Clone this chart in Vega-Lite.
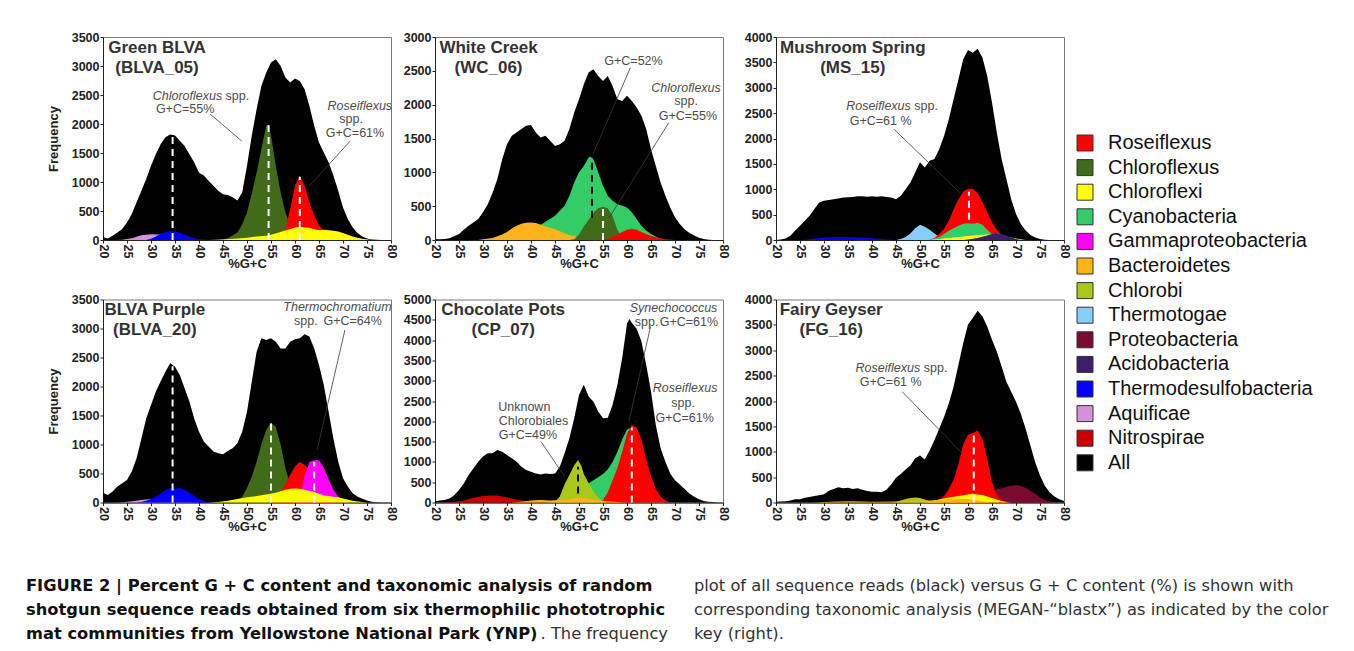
{
"$schema": "https://vega.github.io/schema/vega-lite/v6.json",
"padding": {"left": 26, "top": 30, "right": 0, "bottom": 0},
"background": "#ffffff",
"datasets": {
"curves": [
{"s":"B05","t":"All","gc":20,"f":50},{"s":"B05","t":"All","gc":21,"f":25},{"s":"B05","t":"All","gc":22,"f":75},{"s":"B05","t":"All","gc":23,"f":130},{"s":"B05","t":"All","gc":24,"f":190},{"s":"B05","t":"All","gc":25,"f":300},{"s":"B05","t":"All","gc":26,"f":450},{"s":"B05","t":"All","gc":27,"f":650},{"s":"B05","t":"All","gc":28,"f":850},{"s":"B05","t":"All","gc":29,"f":1050},{"s":"B05","t":"All","gc":30,"f":1280},{"s":"B05","t":"All","gc":31,"f":1480},{"s":"B05","t":"All","gc":32,"f":1650},{"s":"B05","t":"All","gc":33,"f":1770},{"s":"B05","t":"All","gc":34,"f":1820},{"s":"B05","t":"All","gc":35,"f":1800},{"s":"B05","t":"All","gc":36,"f":1710},{"s":"B05","t":"All","gc":37,"f":1620},{"s":"B05","t":"All","gc":38,"f":1480},{"s":"B05","t":"All","gc":39,"f":1340},{"s":"B05","t":"All","gc":40,"f":1160},{"s":"B05","t":"All","gc":41,"f":1110},{"s":"B05","t":"All","gc":42,"f":1020},{"s":"B05","t":"All","gc":43,"f":935},{"s":"B05","t":"All","gc":44,"f":850},{"s":"B05","t":"All","gc":45,"f":790},{"s":"B05","t":"All","gc":46,"f":775},{"s":"B05","t":"All","gc":47,"f":735},{"s":"B05","t":"All","gc":48,"f":680},{"s":"B05","t":"All","gc":49,"f":820},{"s":"B05","t":"All","gc":50,"f":1280},{"s":"B05","t":"All","gc":51,"f":1800},{"s":"B05","t":"All","gc":52,"f":2255},{"s":"B05","t":"All","gc":53,"f":2655},{"s":"B05","t":"All","gc":54,"f":2885},{"s":"B05","t":"All","gc":55,"f":3060},{"s":"B05","t":"All","gc":56,"f":3115},{"s":"B05","t":"All","gc":57,"f":3000},{"s":"B05","t":"All","gc":58,"f":2800},{"s":"B05","t":"All","gc":59,"f":2715},{"s":"B05","t":"All","gc":60,"f":2785},{"s":"B05","t":"All","gc":61,"f":2740},{"s":"B05","t":"All","gc":62,"f":2600},{"s":"B05","t":"All","gc":63,"f":2310},{"s":"B05","t":"All","gc":64,"f":1970},{"s":"B05","t":"All","gc":65,"f":1680},{"s":"B05","t":"All","gc":66,"f":1510},{"s":"B05","t":"All","gc":67,"f":1340},{"s":"B05","t":"All","gc":68,"f":1110},{"s":"B05","t":"All","gc":69,"f":850},{"s":"B05","t":"All","gc":70,"f":560},{"s":"B05","t":"All","gc":71,"f":360},{"s":"B05","t":"All","gc":72,"f":220},{"s":"B05","t":"All","gc":73,"f":120},{"s":"B05","t":"All","gc":74,"f":60},{"s":"B05","t":"All","gc":75,"f":25},{"s":"B05","t":"All","gc":76,"f":10},{"s":"B05","t":"All","gc":77,"f":5},{"s":"B05","t":"All","gc":78,"f":0},{"s":"B05","t":"All","gc":79,"f":0},{"s":"B05","t":"All","gc":80,"f":0},
{"s":"B05","t":"Chloroflexus","gc":44,"f":0},{"s":"B05","t":"Chloroflexus","gc":46,"f":30},{"s":"B05","t":"Chloroflexus","gc":48,"f":130},{"s":"B05","t":"Chloroflexus","gc":49,"f":270},{"s":"B05","t":"Chloroflexus","gc":50,"f":475},{"s":"B05","t":"Chloroflexus","gc":51,"f":800},{"s":"B05","t":"Chloroflexus","gc":52,"f":1165},{"s":"B05","t":"Chloroflexus","gc":53,"f":1570},{"s":"B05","t":"Chloroflexus","gc":54,"f":1970},{"s":"B05","t":"Chloroflexus","gc":54.5,"f":1990},{"s":"B05","t":"Chloroflexus","gc":55,"f":1800},{"s":"B05","t":"Chloroflexus","gc":56,"f":1280},{"s":"B05","t":"Chloroflexus","gc":57,"f":820},{"s":"B05","t":"Chloroflexus","gc":58,"f":475},{"s":"B05","t":"Chloroflexus","gc":59,"f":250},{"s":"B05","t":"Chloroflexus","gc":60,"f":100},{"s":"B05","t":"Chloroflexus","gc":61,"f":30},{"s":"B05","t":"Chloroflexus","gc":62,"f":0},
{"s":"B05","t":"Roseiflexus","gc":56,"f":0},{"s":"B05","t":"Roseiflexus","gc":57,"f":60},{"s":"B05","t":"Roseiflexus","gc":58,"f":190},{"s":"B05","t":"Roseiflexus","gc":59,"f":535},{"s":"B05","t":"Roseiflexus","gc":60,"f":935},{"s":"B05","t":"Roseiflexus","gc":61,"f":1110},{"s":"B05","t":"Roseiflexus","gc":62,"f":935},{"s":"B05","t":"Roseiflexus","gc":63,"f":650},{"s":"B05","t":"Roseiflexus","gc":64,"f":420},{"s":"B05","t":"Roseiflexus","gc":65,"f":250},{"s":"B05","t":"Roseiflexus","gc":66,"f":160},{"s":"B05","t":"Roseiflexus","gc":67,"f":100},{"s":"B05","t":"Roseiflexus","gc":68,"f":40},{"s":"B05","t":"Roseiflexus","gc":69,"f":0},
{"s":"B05","t":"Aquificae","gc":23,"f":0},{"s":"B05","t":"Aquificae","gc":24,"f":5},{"s":"B05","t":"Aquificae","gc":26,"f":30},{"s":"B05","t":"Aquificae","gc":28,"f":80},{"s":"B05","t":"Aquificae","gc":30,"f":100},{"s":"B05","t":"Aquificae","gc":32,"f":95},{"s":"B05","t":"Aquificae","gc":34,"f":60},{"s":"B05","t":"Aquificae","gc":36,"f":30},{"s":"B05","t":"Aquificae","gc":38,"f":10},{"s":"B05","t":"Aquificae","gc":40,"f":0},
{"s":"B05","t":"Thermodesulfobacteria","gc":29,"f":0},{"s":"B05","t":"Thermodesulfobacteria","gc":30,"f":20},{"s":"B05","t":"Thermodesulfobacteria","gc":31,"f":60},{"s":"B05","t":"Thermodesulfobacteria","gc":32,"f":110},{"s":"B05","t":"Thermodesulfobacteria","gc":33,"f":135},{"s":"B05","t":"Thermodesulfobacteria","gc":34,"f":155},{"s":"B05","t":"Thermodesulfobacteria","gc":35,"f":150},{"s":"B05","t":"Thermodesulfobacteria","gc":36,"f":120},{"s":"B05","t":"Thermodesulfobacteria","gc":37,"f":90},{"s":"B05","t":"Thermodesulfobacteria","gc":38,"f":60},{"s":"B05","t":"Thermodesulfobacteria","gc":39,"f":35},{"s":"B05","t":"Thermodesulfobacteria","gc":40,"f":15},{"s":"B05","t":"Thermodesulfobacteria","gc":42,"f":0},
{"s":"B05","t":"Chloroflexi","gc":42,"f":0},{"s":"B05","t":"Chloroflexi","gc":45,"f":10},{"s":"B05","t":"Chloroflexi","gc":48,"f":25},{"s":"B05","t":"Chloroflexi","gc":50,"f":40},{"s":"B05","t":"Chloroflexi","gc":52,"f":60},{"s":"B05","t":"Chloroflexi","gc":54,"f":75},{"s":"B05","t":"Chloroflexi","gc":55,"f":90},{"s":"B05","t":"Chloroflexi","gc":57,"f":140},{"s":"B05","t":"Chloroflexi","gc":59,"f":190},{"s":"B05","t":"Chloroflexi","gc":60,"f":215},{"s":"B05","t":"Chloroflexi","gc":61,"f":230},{"s":"B05","t":"Chloroflexi","gc":62,"f":215},{"s":"B05","t":"Chloroflexi","gc":63,"f":210},{"s":"B05","t":"Chloroflexi","gc":64,"f":185},{"s":"B05","t":"Chloroflexi","gc":65,"f":170},{"s":"B05","t":"Chloroflexi","gc":66,"f":175},{"s":"B05","t":"Chloroflexi","gc":67,"f":170},{"s":"B05","t":"Chloroflexi","gc":68,"f":160},{"s":"B05","t":"Chloroflexi","gc":69,"f":145},{"s":"B05","t":"Chloroflexi","gc":70,"f":120},{"s":"B05","t":"Chloroflexi","gc":71,"f":90},{"s":"B05","t":"Chloroflexi","gc":72,"f":60},{"s":"B05","t":"Chloroflexi","gc":73,"f":40},{"s":"B05","t":"Chloroflexi","gc":74,"f":20},{"s":"B05","t":"Chloroflexi","gc":76,"f":0},

{"s":"W06","t":"All","gc":20,"f":10},{"s":"W06","t":"All","gc":21,"f":10},{"s":"W06","t":"All","gc":22,"f":15},{"s":"W06","t":"All","gc":23,"f":25},{"s":"W06","t":"All","gc":24,"f":55},{"s":"W06","t":"All","gc":25,"f":90},{"s":"W06","t":"All","gc":26,"f":150},{"s":"W06","t":"All","gc":27,"f":210},{"s":"W06","t":"All","gc":28,"f":260},{"s":"W06","t":"All","gc":29,"f":310},{"s":"W06","t":"All","gc":30,"f":410},{"s":"W06","t":"All","gc":31,"f":530},{"s":"W06","t":"All","gc":32,"f":700},{"s":"W06","t":"All","gc":33,"f":900},{"s":"W06","t":"All","gc":34,"f":1195},{"s":"W06","t":"All","gc":35,"f":1415},{"s":"W06","t":"All","gc":36,"f":1540},{"s":"W06","t":"All","gc":37,"f":1590},{"s":"W06","t":"All","gc":38,"f":1640},{"s":"W06","t":"All","gc":39,"f":1690},{"s":"W06","t":"All","gc":40,"f":1700},{"s":"W06","t":"All","gc":41,"f":1590},{"s":"W06","t":"All","gc":42,"f":1515},{"s":"W06","t":"All","gc":43,"f":1540},{"s":"W06","t":"All","gc":44,"f":1465},{"s":"W06","t":"All","gc":45,"f":1390},{"s":"W06","t":"All","gc":46,"f":1415},{"s":"W06","t":"All","gc":47,"f":1465},{"s":"W06","t":"All","gc":48,"f":1640},{"s":"W06","t":"All","gc":49,"f":1885},{"s":"W06","t":"All","gc":50,"f":2080},{"s":"W06","t":"All","gc":51,"f":2300},{"s":"W06","t":"All","gc":52,"f":2475},{"s":"W06","t":"All","gc":53,"f":2525},{"s":"W06","t":"All","gc":54,"f":2425},{"s":"W06","t":"All","gc":55,"f":2350},{"s":"W06","t":"All","gc":56,"f":2425},{"s":"W06","t":"All","gc":57,"f":2275},{"s":"W06","t":"All","gc":58,"f":2080},{"s":"W06","t":"All","gc":59,"f":2055},{"s":"W06","t":"All","gc":60,"f":2130},{"s":"W06","t":"All","gc":61,"f":2055},{"s":"W06","t":"All","gc":62,"f":1960},{"s":"W06","t":"All","gc":63,"f":1835},{"s":"W06","t":"All","gc":64,"f":1640},{"s":"W06","t":"All","gc":65,"f":1340},{"s":"W06","t":"All","gc":66,"f":1095},{"s":"W06","t":"All","gc":67,"f":850},{"s":"W06","t":"All","gc":68,"f":655},{"s":"W06","t":"All","gc":69,"f":480},{"s":"W06","t":"All","gc":70,"f":335},{"s":"W06","t":"All","gc":71,"f":235},{"s":"W06","t":"All","gc":72,"f":160},{"s":"W06","t":"All","gc":73,"f":105},{"s":"W06","t":"All","gc":74,"f":65},{"s":"W06","t":"All","gc":75,"f":35},{"s":"W06","t":"All","gc":76,"f":15},{"s":"W06","t":"All","gc":77,"f":5},{"s":"W06","t":"All","gc":78,"f":0},{"s":"W06","t":"All","gc":79,"f":0},{"s":"W06","t":"All","gc":80,"f":0},
{"s":"W06","t":"Cyanobacteria","gc":36,"f":0},{"s":"W06","t":"Cyanobacteria","gc":38,"f":50},{"s":"W06","t":"Cyanobacteria","gc":40,"f":130},{"s":"W06","t":"Cyanobacteria","gc":42,"f":220},{"s":"W06","t":"Cyanobacteria","gc":43,"f":270},{"s":"W06","t":"Cyanobacteria","gc":45,"f":360},{"s":"W06","t":"Cyanobacteria","gc":47,"f":505},{"s":"W06","t":"Cyanobacteria","gc":48,"f":655},{"s":"W06","t":"Cyanobacteria","gc":49,"f":850},{"s":"W06","t":"Cyanobacteria","gc":50,"f":1000},{"s":"W06","t":"Cyanobacteria","gc":51,"f":1095},{"s":"W06","t":"Cyanobacteria","gc":52,"f":1220},{"s":"W06","t":"Cyanobacteria","gc":52.5,"f":1230},{"s":"W06","t":"Cyanobacteria","gc":53,"f":1195},{"s":"W06","t":"Cyanobacteria","gc":54,"f":1000},{"s":"W06","t":"Cyanobacteria","gc":55,"f":800},{"s":"W06","t":"Cyanobacteria","gc":56,"f":655},{"s":"W06","t":"Cyanobacteria","gc":57,"f":580},{"s":"W06","t":"Cyanobacteria","gc":58,"f":530},{"s":"W06","t":"Cyanobacteria","gc":59,"f":505},{"s":"W06","t":"Cyanobacteria","gc":60,"f":480},{"s":"W06","t":"Cyanobacteria","gc":61,"f":410},{"s":"W06","t":"Cyanobacteria","gc":62,"f":310},{"s":"W06","t":"Cyanobacteria","gc":63,"f":210},{"s":"W06","t":"Cyanobacteria","gc":64,"f":140},{"s":"W06","t":"Cyanobacteria","gc":65,"f":90},{"s":"W06","t":"Cyanobacteria","gc":66,"f":50},{"s":"W06","t":"Cyanobacteria","gc":67,"f":20},{"s":"W06","t":"Cyanobacteria","gc":68,"f":0},
{"s":"W06","t":"Bacteroidetes","gc":29,"f":0},{"s":"W06","t":"Bacteroidetes","gc":30,"f":10},{"s":"W06","t":"Bacteroidetes","gc":32,"f":30},{"s":"W06","t":"Bacteroidetes","gc":34,"f":80},{"s":"W06","t":"Bacteroidetes","gc":35,"f":120},{"s":"W06","t":"Bacteroidetes","gc":36,"f":170},{"s":"W06","t":"Bacteroidetes","gc":37,"f":210},{"s":"W06","t":"Bacteroidetes","gc":38,"f":240},{"s":"W06","t":"Bacteroidetes","gc":39,"f":255},{"s":"W06","t":"Bacteroidetes","gc":40,"f":260},{"s":"W06","t":"Bacteroidetes","gc":41,"f":250},{"s":"W06","t":"Bacteroidetes","gc":42,"f":230},{"s":"W06","t":"Bacteroidetes","gc":43,"f":200},{"s":"W06","t":"Bacteroidetes","gc":44,"f":180},{"s":"W06","t":"Bacteroidetes","gc":45,"f":160},{"s":"W06","t":"Bacteroidetes","gc":46,"f":130},{"s":"W06","t":"Bacteroidetes","gc":47,"f":100},{"s":"W06","t":"Bacteroidetes","gc":48,"f":75},{"s":"W06","t":"Bacteroidetes","gc":50,"f":40},{"s":"W06","t":"Bacteroidetes","gc":52,"f":15},{"s":"W06","t":"Bacteroidetes","gc":54,"f":0},
{"s":"W06","t":"Chloroflexus","gc":48,"f":0},{"s":"W06","t":"Chloroflexus","gc":49,"f":10},{"s":"W06","t":"Chloroflexus","gc":50,"f":80},{"s":"W06","t":"Chloroflexus","gc":51,"f":200},{"s":"W06","t":"Chloroflexus","gc":52,"f":300},{"s":"W06","t":"Chloroflexus","gc":53,"f":400},{"s":"W06","t":"Chloroflexus","gc":54,"f":470},{"s":"W06","t":"Chloroflexus","gc":55,"f":490},{"s":"W06","t":"Chloroflexus","gc":56,"f":470},{"s":"W06","t":"Chloroflexus","gc":57,"f":350},{"s":"W06","t":"Chloroflexus","gc":58,"f":150},{"s":"W06","t":"Chloroflexus","gc":59,"f":30},{"s":"W06","t":"Chloroflexus","gc":60,"f":0},
{"s":"W06","t":"Roseiflexus","gc":55,"f":0},{"s":"W06","t":"Roseiflexus","gc":56,"f":20},{"s":"W06","t":"Roseiflexus","gc":57,"f":50},{"s":"W06","t":"Roseiflexus","gc":58,"f":80},{"s":"W06","t":"Roseiflexus","gc":59,"f":120},{"s":"W06","t":"Roseiflexus","gc":60,"f":150},{"s":"W06","t":"Roseiflexus","gc":61,"f":165},{"s":"W06","t":"Roseiflexus","gc":62,"f":150},{"s":"W06","t":"Roseiflexus","gc":63,"f":120},{"s":"W06","t":"Roseiflexus","gc":64,"f":90},{"s":"W06","t":"Roseiflexus","gc":65,"f":60},{"s":"W06","t":"Roseiflexus","gc":66,"f":40},{"s":"W06","t":"Roseiflexus","gc":67,"f":25},{"s":"W06","t":"Roseiflexus","gc":68,"f":10},{"s":"W06","t":"Roseiflexus","gc":70,"f":0},

{"s":"M15","t":"All","gc":20,"f":0},{"s":"M15","t":"All","gc":21,"f":10},{"s":"M15","t":"All","gc":22,"f":30},{"s":"M15","t":"All","gc":23,"f":85},{"s":"M15","t":"All","gc":24,"f":185},{"s":"M15","t":"All","gc":25,"f":280},{"s":"M15","t":"All","gc":26,"f":380},{"s":"M15","t":"All","gc":27,"f":480},{"s":"M15","t":"All","gc":28,"f":610},{"s":"M15","t":"All","gc":29,"f":740},{"s":"M15","t":"All","gc":30,"f":775},{"s":"M15","t":"All","gc":31,"f":790},{"s":"M15","t":"All","gc":32,"f":805},{"s":"M15","t":"All","gc":33,"f":820},{"s":"M15","t":"All","gc":34,"f":835},{"s":"M15","t":"All","gc":35,"f":840},{"s":"M15","t":"All","gc":36,"f":845},{"s":"M15","t":"All","gc":37,"f":860},{"s":"M15","t":"All","gc":38,"f":860},{"s":"M15","t":"All","gc":39,"f":850},{"s":"M15","t":"All","gc":40,"f":860},{"s":"M15","t":"All","gc":41,"f":850},{"s":"M15","t":"All","gc":42,"f":860},{"s":"M15","t":"All","gc":43,"f":845},{"s":"M15","t":"All","gc":44,"f":835},{"s":"M15","t":"All","gc":45,"f":805},{"s":"M15","t":"All","gc":46,"f":870},{"s":"M15","t":"All","gc":47,"f":1000},{"s":"M15","t":"All","gc":48,"f":1135},{"s":"M15","t":"All","gc":49,"f":1330},{"s":"M15","t":"All","gc":50,"f":1530},{"s":"M15","t":"All","gc":51,"f":1430},{"s":"M15","t":"All","gc":52,"f":1560},{"s":"M15","t":"All","gc":53,"f":1595},{"s":"M15","t":"All","gc":54,"f":1790},{"s":"M15","t":"All","gc":55,"f":2050},{"s":"M15","t":"All","gc":56,"f":2380},{"s":"M15","t":"All","gc":57,"f":2775},{"s":"M15","t":"All","gc":58,"f":3165},{"s":"M15","t":"All","gc":59,"f":3560},{"s":"M15","t":"All","gc":60,"f":3745},{"s":"M15","t":"All","gc":61,"f":3690},{"s":"M15","t":"All","gc":62,"f":3770},{"s":"M15","t":"All","gc":63,"f":3595},{"s":"M15","t":"All","gc":64,"f":3230},{"s":"M15","t":"All","gc":65,"f":2710},{"s":"M15","t":"All","gc":66,"f":2120},{"s":"M15","t":"All","gc":67,"f":1595},{"s":"M15","t":"All","gc":68,"f":1200},{"s":"M15","t":"All","gc":69,"f":805},{"s":"M15","t":"All","gc":70,"f":510},{"s":"M15","t":"All","gc":71,"f":315},{"s":"M15","t":"All","gc":72,"f":185},{"s":"M15","t":"All","gc":73,"f":100},{"s":"M15","t":"All","gc":74,"f":50},{"s":"M15","t":"All","gc":75,"f":20},{"s":"M15","t":"All","gc":76,"f":5},{"s":"M15","t":"All","gc":77,"f":0},{"s":"M15","t":"All","gc":78,"f":0},{"s":"M15","t":"All","gc":79,"f":0},{"s":"M15","t":"All","gc":80,"f":0},
{"s":"M15","t":"Thermodesulfobacteria","gc":25,"f":0},{"s":"M15","t":"Thermodesulfobacteria","gc":26,"f":5},{"s":"M15","t":"Thermodesulfobacteria","gc":28,"f":30},{"s":"M15","t":"Thermodesulfobacteria","gc":30,"f":50},{"s":"M15","t":"Thermodesulfobacteria","gc":32,"f":60},{"s":"M15","t":"Thermodesulfobacteria","gc":34,"f":60},{"s":"M15","t":"Thermodesulfobacteria","gc":36,"f":55},{"s":"M15","t":"Thermodesulfobacteria","gc":38,"f":45},{"s":"M15","t":"Thermodesulfobacteria","gc":40,"f":35},{"s":"M15","t":"Thermodesulfobacteria","gc":42,"f":20},{"s":"M15","t":"Thermodesulfobacteria","gc":44,"f":5},{"s":"M15","t":"Thermodesulfobacteria","gc":45,"f":0},
{"s":"M15","t":"Thermotogae","gc":45,"f":0},{"s":"M15","t":"Thermotogae","gc":46,"f":20},{"s":"M15","t":"Thermotogae","gc":47,"f":60},{"s":"M15","t":"Thermotogae","gc":48,"f":130},{"s":"M15","t":"Thermotogae","gc":49,"f":230},{"s":"M15","t":"Thermotogae","gc":50,"f":300},{"s":"M15","t":"Thermotogae","gc":51,"f":260},{"s":"M15","t":"Thermotogae","gc":52,"f":200},{"s":"M15","t":"Thermotogae","gc":53,"f":130},{"s":"M15","t":"Thermotogae","gc":54,"f":70},{"s":"M15","t":"Thermotogae","gc":55,"f":30},{"s":"M15","t":"Thermotogae","gc":56,"f":0},
{"s":"M15","t":"Roseiflexus","gc":52,"f":0},{"s":"M15","t":"Roseiflexus","gc":53,"f":40},{"s":"M15","t":"Roseiflexus","gc":54,"f":120},{"s":"M15","t":"Roseiflexus","gc":55,"f":220},{"s":"M15","t":"Roseiflexus","gc":56,"f":380},{"s":"M15","t":"Roseiflexus","gc":57,"f":600},{"s":"M15","t":"Roseiflexus","gc":58,"f":800},{"s":"M15","t":"Roseiflexus","gc":59,"f":950},{"s":"M15","t":"Roseiflexus","gc":60,"f":1010},{"s":"M15","t":"Roseiflexus","gc":61,"f":1010},{"s":"M15","t":"Roseiflexus","gc":62,"f":920},{"s":"M15","t":"Roseiflexus","gc":63,"f":750},{"s":"M15","t":"Roseiflexus","gc":64,"f":550},{"s":"M15","t":"Roseiflexus","gc":65,"f":350},{"s":"M15","t":"Roseiflexus","gc":66,"f":200},{"s":"M15","t":"Roseiflexus","gc":67,"f":100},{"s":"M15","t":"Roseiflexus","gc":68,"f":40},{"s":"M15","t":"Roseiflexus","gc":69,"f":0},
{"s":"M15","t":"Cyanobacteria","gc":52,"f":0},{"s":"M15","t":"Cyanobacteria","gc":53,"f":30},{"s":"M15","t":"Cyanobacteria","gc":54,"f":60},{"s":"M15","t":"Cyanobacteria","gc":55,"f":120},{"s":"M15","t":"Cyanobacteria","gc":56,"f":180},{"s":"M15","t":"Cyanobacteria","gc":57,"f":230},{"s":"M15","t":"Cyanobacteria","gc":58,"f":280},{"s":"M15","t":"Cyanobacteria","gc":59,"f":320},{"s":"M15","t":"Cyanobacteria","gc":60,"f":330},{"s":"M15","t":"Cyanobacteria","gc":61,"f":320},{"s":"M15","t":"Cyanobacteria","gc":62,"f":340},{"s":"M15","t":"Cyanobacteria","gc":63,"f":300},{"s":"M15","t":"Cyanobacteria","gc":64,"f":200},{"s":"M15","t":"Cyanobacteria","gc":65,"f":120},{"s":"M15","t":"Cyanobacteria","gc":66,"f":60},{"s":"M15","t":"Cyanobacteria","gc":67,"f":20},{"s":"M15","t":"Cyanobacteria","gc":68,"f":0},
{"s":"M15","t":"Chloroflexi","gc":52,"f":0},{"s":"M15","t":"Chloroflexi","gc":55,"f":30},{"s":"M15","t":"Chloroflexi","gc":58,"f":60},{"s":"M15","t":"Chloroflexi","gc":60,"f":80},{"s":"M15","t":"Chloroflexi","gc":62,"f":100},{"s":"M15","t":"Chloroflexi","gc":64,"f":110},{"s":"M15","t":"Chloroflexi","gc":66,"f":100},{"s":"M15","t":"Chloroflexi","gc":68,"f":70},{"s":"M15","t":"Chloroflexi","gc":70,"f":30},{"s":"M15","t":"Chloroflexi","gc":72,"f":0},
{"s":"M15","t":"Acidobacteria","gc":59,"f":0},{"s":"M15","t":"Acidobacteria","gc":60,"f":10},{"s":"M15","t":"Acidobacteria","gc":62,"f":40},{"s":"M15","t":"Acidobacteria","gc":64,"f":90},{"s":"M15","t":"Acidobacteria","gc":65,"f":120},{"s":"M15","t":"Acidobacteria","gc":66,"f":130},{"s":"M15","t":"Acidobacteria","gc":67,"f":120},{"s":"M15","t":"Acidobacteria","gc":68,"f":90},{"s":"M15","t":"Acidobacteria","gc":69,"f":50},{"s":"M15","t":"Acidobacteria","gc":70,"f":20},{"s":"M15","t":"Acidobacteria","gc":71,"f":0},

{"s":"B20","t":"All","gc":20,"f":170},{"s":"B20","t":"All","gc":21,"f":130},{"s":"B20","t":"All","gc":22,"f":190},{"s":"B20","t":"All","gc":23,"f":275},{"s":"B20","t":"All","gc":24,"f":330},{"s":"B20","t":"All","gc":25,"f":390},{"s":"B20","t":"All","gc":26,"f":535},{"s":"B20","t":"All","gc":27,"f":765},{"s":"B20","t":"All","gc":28,"f":1105},{"s":"B20","t":"All","gc":29,"f":1450},{"s":"B20","t":"All","gc":30,"f":1680},{"s":"B20","t":"All","gc":31,"f":1910},{"s":"B20","t":"All","gc":32,"f":2085},{"s":"B20","t":"All","gc":33,"f":2255},{"s":"B20","t":"All","gc":34,"f":2400},{"s":"B20","t":"All","gc":35,"f":2340},{"s":"B20","t":"All","gc":36,"f":2200},{"s":"B20","t":"All","gc":37,"f":1970},{"s":"B20","t":"All","gc":38,"f":1740},{"s":"B20","t":"All","gc":39,"f":1450},{"s":"B20","t":"All","gc":40,"f":1220},{"s":"B20","t":"All","gc":41,"f":1050},{"s":"B20","t":"All","gc":42,"f":965},{"s":"B20","t":"All","gc":43,"f":880},{"s":"B20","t":"All","gc":44,"f":850},{"s":"B20","t":"All","gc":45,"f":830},{"s":"B20","t":"All","gc":46,"f":890},{"s":"B20","t":"All","gc":47,"f":935},{"s":"B20","t":"All","gc":48,"f":1020},{"s":"B20","t":"All","gc":49,"f":1220},{"s":"B20","t":"All","gc":50,"f":1565},{"s":"B20","t":"All","gc":51,"f":2085},{"s":"B20","t":"All","gc":52,"f":2600},{"s":"B20","t":"All","gc":53,"f":2830},{"s":"B20","t":"All","gc":54,"f":2800},{"s":"B20","t":"All","gc":55,"f":2830},{"s":"B20","t":"All","gc":56,"f":2770},{"s":"B20","t":"All","gc":57,"f":2655},{"s":"B20","t":"All","gc":58,"f":2655},{"s":"B20","t":"All","gc":59,"f":2770},{"s":"B20","t":"All","gc":60,"f":2815},{"s":"B20","t":"All","gc":61,"f":2830},{"s":"B20","t":"All","gc":62,"f":2900},{"s":"B20","t":"All","gc":63,"f":2860},{"s":"B20","t":"All","gc":64,"f":2655},{"s":"B20","t":"All","gc":65,"f":2370},{"s":"B20","t":"All","gc":66,"f":2025},{"s":"B20","t":"All","gc":67,"f":1565},{"s":"B20","t":"All","gc":68,"f":1105},{"s":"B20","t":"All","gc":69,"f":705},{"s":"B20","t":"All","gc":70,"f":420},{"s":"B20","t":"All","gc":71,"f":275},{"s":"B20","t":"All","gc":72,"f":160},{"s":"B20","t":"All","gc":73,"f":105},{"s":"B20","t":"All","gc":74,"f":65},{"s":"B20","t":"All","gc":75,"f":35},{"s":"B20","t":"All","gc":76,"f":15},{"s":"B20","t":"All","gc":77,"f":5},{"s":"B20","t":"All","gc":78,"f":0},{"s":"B20","t":"All","gc":79,"f":0},{"s":"B20","t":"All","gc":80,"f":0},
{"s":"B20","t":"Chloroflexus","gc":47,"f":0},{"s":"B20","t":"Chloroflexus","gc":48,"f":20},{"s":"B20","t":"Chloroflexus","gc":49,"f":100},{"s":"B20","t":"Chloroflexus","gc":50,"f":250},{"s":"B20","t":"Chloroflexus","gc":51,"f":450},{"s":"B20","t":"Chloroflexus","gc":52,"f":700},{"s":"B20","t":"Chloroflexus","gc":53,"f":1000},{"s":"B20","t":"Chloroflexus","gc":54,"f":1250},{"s":"B20","t":"Chloroflexus","gc":55,"f":1380},{"s":"B20","t":"Chloroflexus","gc":56,"f":1300},{"s":"B20","t":"Chloroflexus","gc":57,"f":1000},{"s":"B20","t":"Chloroflexus","gc":58,"f":600},{"s":"B20","t":"Chloroflexus","gc":59,"f":300},{"s":"B20","t":"Chloroflexus","gc":60,"f":120},{"s":"B20","t":"Chloroflexus","gc":61,"f":30},{"s":"B20","t":"Chloroflexus","gc":62,"f":0},
{"s":"B20","t":"Roseiflexus","gc":55,"f":0},{"s":"B20","t":"Roseiflexus","gc":56,"f":80},{"s":"B20","t":"Roseiflexus","gc":57,"f":180},{"s":"B20","t":"Roseiflexus","gc":58,"f":320},{"s":"B20","t":"Roseiflexus","gc":59,"f":480},{"s":"B20","t":"Roseiflexus","gc":60,"f":620},{"s":"B20","t":"Roseiflexus","gc":61,"f":700},{"s":"B20","t":"Roseiflexus","gc":62,"f":650},{"s":"B20","t":"Roseiflexus","gc":63,"f":550},{"s":"B20","t":"Roseiflexus","gc":64,"f":400},{"s":"B20","t":"Roseiflexus","gc":65,"f":250},{"s":"B20","t":"Roseiflexus","gc":66,"f":120},{"s":"B20","t":"Roseiflexus","gc":67,"f":40},{"s":"B20","t":"Roseiflexus","gc":68,"f":0},
{"s":"B20","t":"Gammaproteobacteria","gc":60,"f":0},{"s":"B20","t":"Gammaproteobacteria","gc":61,"f":100},{"s":"B20","t":"Gammaproteobacteria","gc":62,"f":450},{"s":"B20","t":"Gammaproteobacteria","gc":63,"f":700},{"s":"B20","t":"Gammaproteobacteria","gc":64,"f":730},{"s":"B20","t":"Gammaproteobacteria","gc":65,"f":730},{"s":"B20","t":"Gammaproteobacteria","gc":66,"f":600},{"s":"B20","t":"Gammaproteobacteria","gc":67,"f":400},{"s":"B20","t":"Gammaproteobacteria","gc":68,"f":220},{"s":"B20","t":"Gammaproteobacteria","gc":69,"f":100},{"s":"B20","t":"Gammaproteobacteria","gc":70,"f":30},{"s":"B20","t":"Gammaproteobacteria","gc":71,"f":0},
{"s":"B20","t":"Aquificae","gc":23,"f":0},{"s":"B20","t":"Aquificae","gc":24,"f":5},{"s":"B20","t":"Aquificae","gc":26,"f":20},{"s":"B20","t":"Aquificae","gc":28,"f":45},{"s":"B20","t":"Aquificae","gc":30,"f":60},{"s":"B20","t":"Aquificae","gc":32,"f":55},{"s":"B20","t":"Aquificae","gc":34,"f":40},{"s":"B20","t":"Aquificae","gc":36,"f":20},{"s":"B20","t":"Aquificae","gc":38,"f":8},{"s":"B20","t":"Aquificae","gc":40,"f":0},
{"s":"B20","t":"Thermodesulfobacteria","gc":27,"f":0},{"s":"B20","t":"Thermodesulfobacteria","gc":28,"f":10},{"s":"B20","t":"Thermodesulfobacteria","gc":29,"f":30},{"s":"B20","t":"Thermodesulfobacteria","gc":30,"f":60},{"s":"B20","t":"Thermodesulfobacteria","gc":31,"f":100},{"s":"B20","t":"Thermodesulfobacteria","gc":32,"f":150},{"s":"B20","t":"Thermodesulfobacteria","gc":33,"f":210},{"s":"B20","t":"Thermodesulfobacteria","gc":34,"f":250},{"s":"B20","t":"Thermodesulfobacteria","gc":35,"f":240},{"s":"B20","t":"Thermodesulfobacteria","gc":36,"f":250},{"s":"B20","t":"Thermodesulfobacteria","gc":37,"f":220},{"s":"B20","t":"Thermodesulfobacteria","gc":38,"f":170},{"s":"B20","t":"Thermodesulfobacteria","gc":39,"f":110},{"s":"B20","t":"Thermodesulfobacteria","gc":40,"f":60},{"s":"B20","t":"Thermodesulfobacteria","gc":41,"f":25},{"s":"B20","t":"Thermodesulfobacteria","gc":42,"f":5},{"s":"B20","t":"Thermodesulfobacteria","gc":43,"f":0},
{"s":"B20","t":"Chloroflexi","gc":42,"f":0},{"s":"B20","t":"Chloroflexi","gc":44,"f":10},{"s":"B20","t":"Chloroflexi","gc":46,"f":30},{"s":"B20","t":"Chloroflexi","gc":48,"f":60},{"s":"B20","t":"Chloroflexi","gc":50,"f":90},{"s":"B20","t":"Chloroflexi","gc":52,"f":110},{"s":"B20","t":"Chloroflexi","gc":54,"f":140},{"s":"B20","t":"Chloroflexi","gc":56,"f":170},{"s":"B20","t":"Chloroflexi","gc":58,"f":220},{"s":"B20","t":"Chloroflexi","gc":59,"f":235},{"s":"B20","t":"Chloroflexi","gc":60,"f":240},{"s":"B20","t":"Chloroflexi","gc":61,"f":235},{"s":"B20","t":"Chloroflexi","gc":62,"f":220},{"s":"B20","t":"Chloroflexi","gc":63,"f":200},{"s":"B20","t":"Chloroflexi","gc":64,"f":180},{"s":"B20","t":"Chloroflexi","gc":65,"f":150},{"s":"B20","t":"Chloroflexi","gc":66,"f":120},{"s":"B20","t":"Chloroflexi","gc":67,"f":110},{"s":"B20","t":"Chloroflexi","gc":68,"f":100},{"s":"B20","t":"Chloroflexi","gc":69,"f":90},{"s":"B20","t":"Chloroflexi","gc":70,"f":70},{"s":"B20","t":"Chloroflexi","gc":72,"f":30},{"s":"B20","t":"Chloroflexi","gc":74,"f":10},{"s":"B20","t":"Chloroflexi","gc":75,"f":0},

{"s":"C07","t":"All","gc":20,"f":30},{"s":"C07","t":"All","gc":21,"f":50},{"s":"C07","t":"All","gc":22,"f":60},{"s":"C07","t":"All","gc":23,"f":100},{"s":"C07","t":"All","gc":24,"f":180},{"s":"C07","t":"All","gc":25,"f":305},{"s":"C07","t":"All","gc":26,"f":470},{"s":"C07","t":"All","gc":27,"f":675},{"s":"C07","t":"All","gc":28,"f":840},{"s":"C07","t":"All","gc":29,"f":1005},{"s":"C07","t":"All","gc":30,"f":1130},{"s":"C07","t":"All","gc":31,"f":1210},{"s":"C07","t":"All","gc":32,"f":1210},{"s":"C07","t":"All","gc":33,"f":1295},{"s":"C07","t":"All","gc":34,"f":1250},{"s":"C07","t":"All","gc":35,"f":1170},{"s":"C07","t":"All","gc":36,"f":1090},{"s":"C07","t":"All","gc":37,"f":1005},{"s":"C07","t":"All","gc":38,"f":880},{"s":"C07","t":"All","gc":39,"f":800},{"s":"C07","t":"All","gc":40,"f":760},{"s":"C07","t":"All","gc":41,"f":715},{"s":"C07","t":"All","gc":42,"f":690},{"s":"C07","t":"All","gc":43,"f":715},{"s":"C07","t":"All","gc":44,"f":700},{"s":"C07","t":"All","gc":45,"f":715},{"s":"C07","t":"All","gc":46,"f":880},{"s":"C07","t":"All","gc":47,"f":1210},{"s":"C07","t":"All","gc":48,"f":1580},{"s":"C07","t":"All","gc":49,"f":2075},{"s":"C07","t":"All","gc":50,"f":2650},{"s":"C07","t":"All","gc":51,"f":2900},{"s":"C07","t":"All","gc":52,"f":2610},{"s":"C07","t":"All","gc":53,"f":2490},{"s":"C07","t":"All","gc":54,"f":2240},{"s":"C07","t":"All","gc":55,"f":2075},{"s":"C07","t":"All","gc":56,"f":2090},{"s":"C07","t":"All","gc":57,"f":2405},{"s":"C07","t":"All","gc":58,"f":2900},{"s":"C07","t":"All","gc":59,"f":3560},{"s":"C07","t":"All","gc":60,"f":4400},{"s":"C07","t":"All","gc":60.5,"f":4520},{"s":"C07","t":"All","gc":61,"f":4430},{"s":"C07","t":"All","gc":62,"f":4280},{"s":"C07","t":"All","gc":63,"f":3970},{"s":"C07","t":"All","gc":64,"f":3395},{"s":"C07","t":"All","gc":65,"f":2735},{"s":"C07","t":"All","gc":66,"f":1910},{"s":"C07","t":"All","gc":67,"f":1335},{"s":"C07","t":"All","gc":68,"f":1005},{"s":"C07","t":"All","gc":69,"f":715},{"s":"C07","t":"All","gc":70,"f":550},{"s":"C07","t":"All","gc":71,"f":445},{"s":"C07","t":"All","gc":72,"f":330},{"s":"C07","t":"All","gc":73,"f":220},{"s":"C07","t":"All","gc":74,"f":140},{"s":"C07","t":"All","gc":75,"f":80},{"s":"C07","t":"All","gc":76,"f":40},{"s":"C07","t":"All","gc":77,"f":20},{"s":"C07","t":"All","gc":78,"f":10},{"s":"C07","t":"All","gc":79,"f":0},{"s":"C07","t":"All","gc":80,"f":0},
{"s":"C07","t":"Nitrospirae","gc":23,"f":0},{"s":"C07","t":"Nitrospirae","gc":24,"f":10},{"s":"C07","t":"Nitrospirae","gc":26,"f":50},{"s":"C07","t":"Nitrospirae","gc":28,"f":120},{"s":"C07","t":"Nitrospirae","gc":30,"f":160},{"s":"C07","t":"Nitrospirae","gc":32,"f":170},{"s":"C07","t":"Nitrospirae","gc":33,"f":170},{"s":"C07","t":"Nitrospirae","gc":34,"f":150},{"s":"C07","t":"Nitrospirae","gc":36,"f":100},{"s":"C07","t":"Nitrospirae","gc":38,"f":50},{"s":"C07","t":"Nitrospirae","gc":40,"f":20},{"s":"C07","t":"Nitrospirae","gc":42,"f":5},{"s":"C07","t":"Nitrospirae","gc":43,"f":0},
{"s":"C07","t":"Cyanobacteria","gc":43,"f":0},{"s":"C07","t":"Cyanobacteria","gc":45,"f":30},{"s":"C07","t":"Cyanobacteria","gc":47,"f":120},{"s":"C07","t":"Cyanobacteria","gc":49,"f":250},{"s":"C07","t":"Cyanobacteria","gc":51,"f":400},{"s":"C07","t":"Cyanobacteria","gc":53,"f":550},{"s":"C07","t":"Cyanobacteria","gc":55,"f":700},{"s":"C07","t":"Cyanobacteria","gc":56,"f":820},{"s":"C07","t":"Cyanobacteria","gc":57,"f":1000},{"s":"C07","t":"Cyanobacteria","gc":58,"f":1250},{"s":"C07","t":"Cyanobacteria","gc":59,"f":1550},{"s":"C07","t":"Cyanobacteria","gc":60,"f":1800},{"s":"C07","t":"Cyanobacteria","gc":61,"f":1850},{"s":"C07","t":"Cyanobacteria","gc":62,"f":1600},{"s":"C07","t":"Cyanobacteria","gc":63,"f":1300},{"s":"C07","t":"Cyanobacteria","gc":64,"f":800},{"s":"C07","t":"Cyanobacteria","gc":65,"f":400},{"s":"C07","t":"Cyanobacteria","gc":66,"f":150},{"s":"C07","t":"Cyanobacteria","gc":67,"f":50},{"s":"C07","t":"Cyanobacteria","gc":68,"f":0},
{"s":"C07","t":"Roseiflexus","gc":54,"f":0},{"s":"C07","t":"Roseiflexus","gc":55,"f":60},{"s":"C07","t":"Roseiflexus","gc":56,"f":250},{"s":"C07","t":"Roseiflexus","gc":57,"f":550},{"s":"C07","t":"Roseiflexus","gc":58,"f":850},{"s":"C07","t":"Roseiflexus","gc":59,"f":1250},{"s":"C07","t":"Roseiflexus","gc":60,"f":1700},{"s":"C07","t":"Roseiflexus","gc":61,"f":1900},{"s":"C07","t":"Roseiflexus","gc":62,"f":1850},{"s":"C07","t":"Roseiflexus","gc":63,"f":1550},{"s":"C07","t":"Roseiflexus","gc":64,"f":1050},{"s":"C07","t":"Roseiflexus","gc":65,"f":650},{"s":"C07","t":"Roseiflexus","gc":66,"f":330},{"s":"C07","t":"Roseiflexus","gc":67,"f":150},{"s":"C07","t":"Roseiflexus","gc":68,"f":50},{"s":"C07","t":"Roseiflexus","gc":69,"f":0},
{"s":"C07","t":"Chlorobi","gc":44,"f":0},{"s":"C07","t":"Chlorobi","gc":45,"f":20},{"s":"C07","t":"Chlorobi","gc":46,"f":150},{"s":"C07","t":"Chlorobi","gc":47,"f":450},{"s":"C07","t":"Chlorobi","gc":48,"f":680},{"s":"C07","t":"Chlorobi","gc":49,"f":920},{"s":"C07","t":"Chlorobi","gc":49.8,"f":1045},{"s":"C07","t":"Chlorobi","gc":50.5,"f":900},{"s":"C07","t":"Chlorobi","gc":51,"f":700},{"s":"C07","t":"Chlorobi","gc":52,"f":480},{"s":"C07","t":"Chlorobi","gc":53,"f":280},{"s":"C07","t":"Chlorobi","gc":54,"f":120},{"s":"C07","t":"Chlorobi","gc":55,"f":30},{"s":"C07","t":"Chlorobi","gc":56,"f":0},
{"s":"C07","t":"Bacteroidetes","gc":36,"f":0},{"s":"C07","t":"Bacteroidetes","gc":38,"f":20},{"s":"C07","t":"Bacteroidetes","gc":40,"f":50},{"s":"C07","t":"Bacteroidetes","gc":42,"f":60},{"s":"C07","t":"Bacteroidetes","gc":44,"f":50},{"s":"C07","t":"Bacteroidetes","gc":46,"f":60},{"s":"C07","t":"Bacteroidetes","gc":48,"f":80},{"s":"C07","t":"Bacteroidetes","gc":50,"f":130},{"s":"C07","t":"Bacteroidetes","gc":52,"f":90},{"s":"C07","t":"Bacteroidetes","gc":54,"f":50},{"s":"C07","t":"Bacteroidetes","gc":56,"f":30},{"s":"C07","t":"Bacteroidetes","gc":58,"f":15},{"s":"C07","t":"Bacteroidetes","gc":60,"f":0},

{"s":"F16","t":"All","gc":20,"f":15},{"s":"F16","t":"All","gc":21,"f":20},{"s":"F16","t":"All","gc":22,"f":25},{"s":"F16","t":"All","gc":23,"f":40},{"s":"F16","t":"All","gc":24,"f":65},{"s":"F16","t":"All","gc":25,"f":65},{"s":"F16","t":"All","gc":26,"f":95},{"s":"F16","t":"All","gc":27,"f":110},{"s":"F16","t":"All","gc":28,"f":130},{"s":"F16","t":"All","gc":29,"f":145},{"s":"F16","t":"All","gc":30,"f":165},{"s":"F16","t":"All","gc":31,"f":230},{"s":"F16","t":"All","gc":32,"f":265},{"s":"F16","t":"All","gc":33,"f":300},{"s":"F16","t":"All","gc":34,"f":280},{"s":"F16","t":"All","gc":35,"f":290},{"s":"F16","t":"All","gc":36,"f":265},{"s":"F16","t":"All","gc":37,"f":280},{"s":"F16","t":"All","gc":38,"f":250},{"s":"F16","t":"All","gc":39,"f":225},{"s":"F16","t":"All","gc":40,"f":210},{"s":"F16","t":"All","gc":41,"f":210},{"s":"F16","t":"All","gc":42,"f":200},{"s":"F16","t":"All","gc":43,"f":250},{"s":"F16","t":"All","gc":44,"f":355},{"s":"F16","t":"All","gc":45,"f":490},{"s":"F16","t":"All","gc":46,"f":560},{"s":"F16","t":"All","gc":47,"f":650},{"s":"F16","t":"All","gc":48,"f":730},{"s":"F16","t":"All","gc":49,"f":870},{"s":"F16","t":"All","gc":50,"f":925},{"s":"F16","t":"All","gc":51,"f":845},{"s":"F16","t":"All","gc":52,"f":1025},{"s":"F16","t":"All","gc":53,"f":1225},{"s":"F16","t":"All","gc":54,"f":1455},{"s":"F16","t":"All","gc":55,"f":1685},{"s":"F16","t":"All","gc":56,"f":1950},{"s":"F16","t":"All","gc":57,"f":2280},{"s":"F16","t":"All","gc":58,"f":2710},{"s":"F16","t":"All","gc":59,"f":3140},{"s":"F16","t":"All","gc":60,"f":3505},{"s":"F16","t":"All","gc":61,"f":3635},{"s":"F16","t":"All","gc":62,"f":3780},{"s":"F16","t":"All","gc":63,"f":3670},{"s":"F16","t":"All","gc":64,"f":3470},{"s":"F16","t":"All","gc":65,"f":3205},{"s":"F16","t":"All","gc":66,"f":2975},{"s":"F16","t":"All","gc":67,"f":2680},{"s":"F16","t":"All","gc":68,"f":2380},{"s":"F16","t":"All","gc":69,"f":2180},{"s":"F16","t":"All","gc":70,"f":1985},{"s":"F16","t":"All","gc":71,"f":1750},{"s":"F16","t":"All","gc":72,"f":1455},{"s":"F16","t":"All","gc":73,"f":1125},{"s":"F16","t":"All","gc":74,"f":795},{"s":"F16","t":"All","gc":75,"f":530},{"s":"F16","t":"All","gc":76,"f":330},{"s":"F16","t":"All","gc":77,"f":200},{"s":"F16","t":"All","gc":78,"f":120},{"s":"F16","t":"All","gc":79,"f":65},{"s":"F16","t":"All","gc":80,"f":30},
{"s":"F16","t":"Proteobacteria","gc":61,"f":0},{"s":"F16","t":"Proteobacteria","gc":62,"f":20},{"s":"F16","t":"Proteobacteria","gc":63,"f":100},{"s":"F16","t":"Proteobacteria","gc":64,"f":180},{"s":"F16","t":"Proteobacteria","gc":65,"f":230},{"s":"F16","t":"Proteobacteria","gc":66,"f":260},{"s":"F16","t":"Proteobacteria","gc":67,"f":280},{"s":"F16","t":"Proteobacteria","gc":68,"f":310},{"s":"F16","t":"Proteobacteria","gc":69,"f":330},{"s":"F16","t":"Proteobacteria","gc":70,"f":340},{"s":"F16","t":"Proteobacteria","gc":71,"f":330},{"s":"F16","t":"Proteobacteria","gc":72,"f":290},{"s":"F16","t":"Proteobacteria","gc":73,"f":230},{"s":"F16","t":"Proteobacteria","gc":74,"f":170},{"s":"F16","t":"Proteobacteria","gc":75,"f":100},{"s":"F16","t":"Proteobacteria","gc":76,"f":50},{"s":"F16","t":"Proteobacteria","gc":77,"f":20},{"s":"F16","t":"Proteobacteria","gc":78,"f":0},
{"s":"F16","t":"Roseiflexus","gc":53,"f":0},{"s":"F16","t":"Roseiflexus","gc":54,"f":50},{"s":"F16","t":"Roseiflexus","gc":55,"f":130},{"s":"F16","t":"Roseiflexus","gc":56,"f":260},{"s":"F16","t":"Roseiflexus","gc":57,"f":450},{"s":"F16","t":"Roseiflexus","gc":58,"f":750},{"s":"F16","t":"Roseiflexus","gc":59,"f":1150},{"s":"F16","t":"Roseiflexus","gc":60,"f":1330},{"s":"F16","t":"Roseiflexus","gc":61,"f":1370},{"s":"F16","t":"Roseiflexus","gc":62,"f":1420},{"s":"F16","t":"Roseiflexus","gc":63,"f":1250},{"s":"F16","t":"Roseiflexus","gc":64,"f":860},{"s":"F16","t":"Roseiflexus","gc":65,"f":400},{"s":"F16","t":"Roseiflexus","gc":66,"f":150},{"s":"F16","t":"Roseiflexus","gc":67,"f":50},{"s":"F16","t":"Roseiflexus","gc":68,"f":0},
{"s":"F16","t":"Chlorobi","gc":44,"f":0},{"s":"F16","t":"Chlorobi","gc":45,"f":10},{"s":"F16","t":"Chlorobi","gc":46,"f":40},{"s":"F16","t":"Chlorobi","gc":47,"f":70},{"s":"F16","t":"Chlorobi","gc":48,"f":90},{"s":"F16","t":"Chlorobi","gc":49,"f":100},{"s":"F16","t":"Chlorobi","gc":50,"f":90},{"s":"F16","t":"Chlorobi","gc":51,"f":60},{"s":"F16","t":"Chlorobi","gc":52,"f":30},{"s":"F16","t":"Chlorobi","gc":53,"f":10},{"s":"F16","t":"Chlorobi","gc":54,"f":0},
{"s":"F16","t":"Chloroflexi","gc":51,"f":0},{"s":"F16","t":"Chloroflexi","gc":52,"f":20},{"s":"F16","t":"Chloroflexi","gc":54,"f":60},{"s":"F16","t":"Chloroflexi","gc":56,"f":100},{"s":"F16","t":"Chloroflexi","gc":58,"f":130},{"s":"F16","t":"Chloroflexi","gc":60,"f":160},{"s":"F16","t":"Chloroflexi","gc":61,"f":170},{"s":"F16","t":"Chloroflexi","gc":62,"f":160},{"s":"F16","t":"Chloroflexi","gc":63,"f":150},{"s":"F16","t":"Chloroflexi","gc":64,"f":120},{"s":"F16","t":"Chloroflexi","gc":65,"f":90},{"s":"F16","t":"Chloroflexi","gc":66,"f":60},{"s":"F16","t":"Chloroflexi","gc":67,"f":30},{"s":"F16","t":"Chloroflexi","gc":68,"f":10},{"s":"F16","t":"Chloroflexi","gc":69,"f":0},
{"s":"F16","t":"Bacteroidetes","gc":28,"f":0},{"s":"F16","t":"Bacteroidetes","gc":30,"f":10},{"s":"F16","t":"Bacteroidetes","gc":33,"f":20},{"s":"F16","t":"Bacteroidetes","gc":36,"f":25},{"s":"F16","t":"Bacteroidetes","gc":38,"f":20},{"s":"F16","t":"Bacteroidetes","gc":40,"f":15},{"s":"F16","t":"Bacteroidetes","gc":45,"f":20},{"s":"F16","t":"Bacteroidetes","gc":50,"f":30},{"s":"F16","t":"Bacteroidetes","gc":53,"f":45},{"s":"F16","t":"Bacteroidetes","gc":55,"f":60},{"s":"F16","t":"Bacteroidetes","gc":58,"f":80},{"s":"F16","t":"Bacteroidetes","gc":60,"f":70},{"s":"F16","t":"Bacteroidetes","gc":62,"f":40},{"s":"F16","t":"Bacteroidetes","gc":64,"f":10},{"s":"F16","t":"Bacteroidetes","gc":65,"f":0}
],
"peaks": [
{"s":"B05","gc":34.5,"f":0,"f2":1800,"shade":"light"},{"s":"B05","gc":54.5,"f":0,"f2":1980,"shade":"light"},{"s":"B05","gc":61,"f":0,"f2":1090,"shade":"light"},
{"s":"W06","gc":52.7,"f":330,"f2":1220,"shade":"dark"},{"s":"W06","gc":55,"f":0,"f2":480,"shade":"light"},
{"s":"M15","gc":60.2,"f":400,"f2":950,"shade":"light"},
{"s":"B20","gc":34.5,"f":0,"f2":2350,"shade":"light"},{"s":"B20","gc":55,"f":0,"f2":1360,"shade":"light"},{"s":"B20","gc":64,"f":0,"f2":700,"shade":"light"},
{"s":"C07","gc":49.8,"f":220,"f2":880,"shade":"dark"},{"s":"C07","gc":61,"f":0,"f2":1850,"shade":"light"},
{"s":"F16","gc":61.2,"f":0,"f2":1390,"shade":"light"}
],
"leaders": [
{"s":"B05","gc":42.3,"f":2172,"gc2":48.9,"f2":1707},{"s":"B05","gc":71.5,"f":1707,"gc2":63.0,"f2":931},
{"s":"W06","gc":60.7,"f":2546,"gc2":52.9,"f2":1266},{"s":"W06","gc":68.7,"f":1733,"gc2":56.3,"f2":330},
{"s":"M15","gc":44.6,"f":2181,"gc2":58.3,"f2":932},
{"s":"B20","gc":70.4,"f":2974,"gc2":64.6,"f2":905},
{"s":"C07","gc":42.1,"f":1498,"gc2":47.0,"f2":635},{"s":"C07","gc":64.9,"f":4330,"gc2":60.4,"f2":1990},
{"s":"F16","gc":46.3,"f":2183,"gc2":58.8,"f2":969}
],
"notes": [
{"s":"B05","st":"h","gc":31.25,"f":3229,"txt":"Green BLVA\n(BLVA_05)"},
{"s":"B05","st":"i","gc":37.6,"f":2483,"txt":"Chloroflexus"},{"s":"B05","st":"n","gc":48.0,"f":2483,"txt":"spp."},{"s":"B05","st":"n","gc":37.1,"f":2259,"txt":"G+C=55%"},
{"s":"B05","st":"i","gc":73.5,"f":2310,"txt":"Roseiflexus"},{"s":"B05","st":"n","gc":71.7,"f":2086,"txt":"spp."},{"s":"B05","st":"n","gc":72.5,"f":1850,"txt":"G+C=61%"},
{"s":"W06","st":"h","gc":31.15,"f":2768,"txt":"White Creek\n(WC_06)"},
{"s":"W06","st":"n","gc":61.35,"f":2645,"txt":"G+C=52%"},
{"s":"W06","st":"i","gc":72.3,"f":2251,"txt":"Chloroflexus"},{"s":"W06","st":"n","gc":72.3,"f":2054,"txt":"spp."},{"s":"W06","st":"n","gc":72.7,"f":1833,"txt":"G+C=55%"},
{"s":"M15","st":"h","gc":36.0,"f":3691,"txt":"Mushroom Spring\n(MS_15)"},
{"s":"M15","st":"i","gc":41.35,"f":2640,"txt":"Roseiflexus"},{"s":"M15","st":"n","gc":51.27,"f":2640,"txt":"spp."},{"s":"M15","st":"n","gc":41.8,"f":2344,"txt":"G+C=61 %"},
{"s":"B20","st":"h","gc":30.8,"f":3229,"txt":"BLVA Purple\n(BLVA_20)"},
{"s":"B20","st":"i","gc":68.85,"f":3370,"txt":"Thermochromatium"},{"s":"B20","st":"n","gc":62.25,"f":3129,"txt":"spp."},{"s":"B20","st":"n","gc":72.0,"f":3129,"txt":"G+C=64%"},
{"s":"C07","st":"h","gc":34.2,"f":4613,"txt":"Chocolate Pots\n(CP_07)"},
{"s":"C07","st":"n","gc":38.6,"f":2360,"txt":"Unknown"},{"s":"C07","st":"n","gc":40.5,"f":2007,"txt":"Chlorobiales"},{"s":"C07","st":"n","gc":39.35,"f":1663,"txt":"G+C=49%"},
{"s":"C07","st":"i","gc":69.7,"f":4790,"txt":"Synechococcus"},{"s":"C07","st":"n","gc":64.1,"f":4438,"txt":"spp."},{"s":"C07","st":"n","gc":72.9,"f":4438,"txt":"G+C=61%"},
{"s":"C07","st":"i","gc":72.1,"f":2813,"txt":"Roseiflexus"},{"s":"C07","st":"n","gc":71.7,"f":2443,"txt":"spp."},{"s":"C07","st":"n","gc":72.0,"f":2074,"txt":"G+C=61%"},
{"s":"F16","st":"h","gc":31.5,"f":3691,"txt":"Fairy Geyser\n(FG_16)"},
{"s":"F16","st":"i","gc":43.3,"f":2644,"txt":"Roseiflexus"},{"s":"F16","st":"n","gc":53.25,"f":2644,"txt":"spp."},{"s":"F16","st":"n","gc":43.9,"f":2380,"txt":"G+C=61 %"}
],
"caption": [
{"col":1,"line":1,"part":"lead","txt":"FIGURE 2 | Percent G + C content and taxonomic analysis of random"},
{"col":1,"line":2,"part":"lead","txt":"shotgun sequence reads obtained from six thermophilic phototrophic"},
{"col":1,"line":3,"part":"lead","txt":"mat communities from Yellowstone National Park (YNP)"},
{"col":1,"line":3,"part":"tail","txt":". The frequency"},
{"col":2,"line":1,"part":"body","txt":"plot of all sequence reads (black) versus G + C content (%) is shown with"},
{"col":2,"line":2,"part":"body","txt":"corresponding taxonomic analysis (MEGAN-“blastx”) as indicated by the color"},
{"col":2,"line":3,"part":"body","txt":"key (right)."}
]
},
"vconcat": [
{
"concat": [
{"width":288,"height":203,
"encoding":{"x":{"field":"gc","type":"quantitative","scale":{"domain":[20,80],"nice":false,"zero":false},"axis":{"title":"%G+C","values":[20,25,30,35,40,45,50,55,60,65,70,75,80],"labelAngle":90,"labelFlush":false,"labelOverlap":false,"titlePadding":0}},
"y":{"field":"f","type":"quantitative","stack":null,"scale":{"domain":[0,3500],"nice":false},"axis":{"title":"Frequency","format":"d","values":[0,500,1000,1500,2000,2500,3000,3500],"labelFlush":false,"labelOverlap":false,"titlePadding":11}}},
"layer":[
{"data":{"name":"curves"},"transform":[{"filter":"datum.s==='B05'"}],"mark":{"type":"area"},"encoding":{"color":{"field":"t","type":"nominal","scale":{"domain":["Roseiflexus","Chloroflexus","Chloroflexi","Cyanobacteria","Gammaproteobacteria","Bacteroidetes","Chlorobi","Thermotogae","Proteobacteria","Acidobacteria","Thermodesulfobacteria","Aquificae","Nitrospirae","All"],"range":["#ff0000","#416b18","#ffff00","#33cc66","#ff00ff","#ffb21a","#a8c81a","#87cefa","#7a0a2e","#3b1f6b","#0000ff","#d291d8","#cc0000","#000000"]},"legend":{"title":null,"orient":"none","legendX":972,"legendY":96}}}},
{"data":{"name":"peaks"},"transform":[{"filter":"datum.s==='B05'"}],"mark":{"type":"rule","strokeDash":[7,5],"strokeWidth":2},"encoding":{"y2":{"field":"f2"},"stroke":{"field":"shade","type":"nominal","scale":{"domain":["light","dark"],"range":["#ffffff","#000000"]},"legend":null}}},
{"data":{"name":"leaders"},"transform":[{"filter":"datum.s==='B05'"}],"mark":{"type":"rule","color":"#3a3a3a","strokeWidth":0.8},"encoding":{"x2":{"field":"gc2"},"y2":{"field":"f2"}}},
{"data":{"name":"notes"},"transform":[{"filter":"datum.s==='B05' && datum.st==='i'"}],"mark":{"type":"text","fontStyle":"italic","fontSize":12.5,"color":"#4d4d4d","baseline":"middle"},"encoding":{"text":{"field":"txt"}}},
{"data":{"name":"notes"},"transform":[{"filter":"datum.s==='B05' && datum.st==='n'"}],"mark":{"type":"text","fontSize":12.5,"color":"#4d4d4d","baseline":"middle"},"encoding":{"text":{"field":"txt"}}},
{"data":{"name":"notes"},"transform":[{"filter":"datum.s==='B05' && datum.st==='h'"}],"mark":{"type":"text","fontSize":17,"fontWeight":"bold","color":"#333333","baseline":"alphabetic","align":"center","lineBreak":"\n","lineHeight":20},"encoding":{"text":{"field":"txt"}}}
]},
{"width":288,"height":203,
"encoding":{"x":{"field":"gc","type":"quantitative","scale":{"domain":[20,80],"nice":false,"zero":false},"axis":{"title":"%G+C","values":[20,25,30,35,40,45,50,55,60,65,70,75,80],"labelAngle":90,"labelFlush":false,"labelOverlap":false,"titlePadding":0}},
"y":{"field":"f","type":"quantitative","stack":null,"scale":{"domain":[0,3000],"nice":false},"axis":{"title":null,"format":"d","values":[0,500,1000,1500,2000,2500,3000],"labelFlush":false,"labelOverlap":false}}},
"layer":[
{"data":{"name":"curves"},"transform":[{"filter":"datum.s==='W06'"}],"mark":{"type":"area"},"encoding":{"color":{"field":"t","type":"nominal","scale":{"domain":["Roseiflexus","Chloroflexus","Chloroflexi","Cyanobacteria","Gammaproteobacteria","Bacteroidetes","Chlorobi","Thermotogae","Proteobacteria","Acidobacteria","Thermodesulfobacteria","Aquificae","Nitrospirae","All"],"range":["#ff0000","#416b18","#ffff00","#33cc66","#ff00ff","#ffb21a","#a8c81a","#87cefa","#7a0a2e","#3b1f6b","#0000ff","#d291d8","#cc0000","#000000"]},"legend":{"title":null,"orient":"none","legendX":972,"legendY":96}}}},
{"data":{"name":"peaks"},"transform":[{"filter":"datum.s==='W06'"}],"mark":{"type":"rule","strokeDash":[7,5],"strokeWidth":2},"encoding":{"y2":{"field":"f2"},"stroke":{"field":"shade","type":"nominal","scale":{"domain":["light","dark"],"range":["#ffffff","#000000"]},"legend":null}}},
{"data":{"name":"leaders"},"transform":[{"filter":"datum.s==='W06'"}],"mark":{"type":"rule","color":"#3a3a3a","strokeWidth":0.8},"encoding":{"x2":{"field":"gc2"},"y2":{"field":"f2"}}},
{"data":{"name":"notes"},"transform":[{"filter":"datum.s==='W06' && datum.st==='i'"}],"mark":{"type":"text","fontStyle":"italic","fontSize":12.5,"color":"#4d4d4d","baseline":"middle"},"encoding":{"text":{"field":"txt"}}},
{"data":{"name":"notes"},"transform":[{"filter":"datum.s==='W06' && datum.st==='n'"}],"mark":{"type":"text","fontSize":12.5,"color":"#4d4d4d","baseline":"middle"},"encoding":{"text":{"field":"txt"}}},
{"data":{"name":"notes"},"transform":[{"filter":"datum.s==='W06' && datum.st==='h'"}],"mark":{"type":"text","fontSize":17,"fontWeight":"bold","color":"#333333","baseline":"alphabetic","align":"center","lineBreak":"\n","lineHeight":20},"encoding":{"text":{"field":"txt"}}}
]},
{"width":288,"height":203,
"encoding":{"x":{"field":"gc","type":"quantitative","scale":{"domain":[20,80],"nice":false,"zero":false},"axis":{"title":"%G+C","values":[20,25,30,35,40,45,50,55,60,65,70,75,80],"labelAngle":90,"labelFlush":false,"labelOverlap":false,"titlePadding":0}},
"y":{"field":"f","type":"quantitative","stack":null,"scale":{"domain":[0,4000],"nice":false},"axis":{"title":null,"format":"d","values":[0,500,1000,1500,2000,2500,3000,3500,4000],"labelFlush":false,"labelOverlap":false,"minExtent":41}}},
"layer":[
{"data":{"name":"curves"},"transform":[{"filter":"datum.s==='M15'"}],"mark":{"type":"area"},"encoding":{"color":{"field":"t","type":"nominal","scale":{"domain":["Roseiflexus","Chloroflexus","Chloroflexi","Cyanobacteria","Gammaproteobacteria","Bacteroidetes","Chlorobi","Thermotogae","Proteobacteria","Acidobacteria","Thermodesulfobacteria","Aquificae","Nitrospirae","All"],"range":["#ff0000","#416b18","#ffff00","#33cc66","#ff00ff","#ffb21a","#a8c81a","#87cefa","#7a0a2e","#3b1f6b","#0000ff","#d291d8","#cc0000","#000000"]},"legend":{"title":null,"orient":"none","legendX":972,"legendY":96}}}},
{"data":{"name":"peaks"},"transform":[{"filter":"datum.s==='M15'"}],"mark":{"type":"rule","strokeDash":[7,5],"strokeWidth":2},"encoding":{"y2":{"field":"f2"},"stroke":{"field":"shade","type":"nominal","scale":{"domain":["light","dark"],"range":["#ffffff","#000000"]},"legend":null}}},
{"data":{"name":"leaders"},"transform":[{"filter":"datum.s==='M15'"}],"mark":{"type":"rule","color":"#3a3a3a","strokeWidth":0.8},"encoding":{"x2":{"field":"gc2"},"y2":{"field":"f2"}}},
{"data":{"name":"notes"},"transform":[{"filter":"datum.s==='M15' && datum.st==='i'"}],"mark":{"type":"text","fontStyle":"italic","fontSize":12.5,"color":"#4d4d4d","baseline":"middle"},"encoding":{"text":{"field":"txt"}}},
{"data":{"name":"notes"},"transform":[{"filter":"datum.s==='M15' && datum.st==='n'"}],"mark":{"type":"text","fontSize":12.5,"color":"#4d4d4d","baseline":"middle"},"encoding":{"text":{"field":"txt"}}},
{"data":{"name":"notes"},"transform":[{"filter":"datum.s==='M15' && datum.st==='h'"}],"mark":{"type":"text","fontSize":17,"fontWeight":"bold","color":"#333333","baseline":"alphabetic","align":"center","lineBreak":"\n","lineHeight":20},"encoding":{"text":{"field":"txt"}}}
]},
{"width":288,"height":203,
"encoding":{"x":{"field":"gc","type":"quantitative","scale":{"domain":[20,80],"nice":false,"zero":false},"axis":{"title":"%G+C","values":[20,25,30,35,40,45,50,55,60,65,70,75,80],"labelAngle":90,"labelFlush":false,"labelOverlap":false,"titlePadding":0}},
"y":{"field":"f","type":"quantitative","stack":null,"scale":{"domain":[0,3500],"nice":false},"axis":{"title":"Frequency","format":"d","values":[0,500,1000,1500,2000,2500,3000,3500],"labelFlush":false,"labelOverlap":false,"titlePadding":11}}},
"layer":[
{"data":{"name":"curves"},"transform":[{"filter":"datum.s==='B20'"}],"mark":{"type":"area"},"encoding":{"color":{"field":"t","type":"nominal","scale":{"domain":["Roseiflexus","Chloroflexus","Chloroflexi","Cyanobacteria","Gammaproteobacteria","Bacteroidetes","Chlorobi","Thermotogae","Proteobacteria","Acidobacteria","Thermodesulfobacteria","Aquificae","Nitrospirae","All"],"range":["#ff0000","#416b18","#ffff00","#33cc66","#ff00ff","#ffb21a","#a8c81a","#87cefa","#7a0a2e","#3b1f6b","#0000ff","#d291d8","#cc0000","#000000"]},"legend":{"title":null,"orient":"none","legendX":972,"legendY":96}}}},
{"data":{"name":"peaks"},"transform":[{"filter":"datum.s==='B20'"}],"mark":{"type":"rule","strokeDash":[7,5],"strokeWidth":2},"encoding":{"y2":{"field":"f2"},"stroke":{"field":"shade","type":"nominal","scale":{"domain":["light","dark"],"range":["#ffffff","#000000"]},"legend":null}}},
{"data":{"name":"leaders"},"transform":[{"filter":"datum.s==='B20'"}],"mark":{"type":"rule","color":"#3a3a3a","strokeWidth":0.8},"encoding":{"x2":{"field":"gc2"},"y2":{"field":"f2"}}},
{"data":{"name":"notes"},"transform":[{"filter":"datum.s==='B20' && datum.st==='i'"}],"mark":{"type":"text","fontStyle":"italic","fontSize":12.5,"color":"#4d4d4d","baseline":"middle"},"encoding":{"text":{"field":"txt"}}},
{"data":{"name":"notes"},"transform":[{"filter":"datum.s==='B20' && datum.st==='n'"}],"mark":{"type":"text","fontSize":12.5,"color":"#4d4d4d","baseline":"middle"},"encoding":{"text":{"field":"txt"}}},
{"data":{"name":"notes"},"transform":[{"filter":"datum.s==='B20' && datum.st==='h'"}],"mark":{"type":"text","fontSize":17,"fontWeight":"bold","color":"#333333","baseline":"alphabetic","align":"center","lineBreak":"\n","lineHeight":20},"encoding":{"text":{"field":"txt"}}}
]},
{"width":288,"height":203,
"encoding":{"x":{"field":"gc","type":"quantitative","scale":{"domain":[20,80],"nice":false,"zero":false},"axis":{"title":"%G+C","values":[20,25,30,35,40,45,50,55,60,65,70,75,80],"labelAngle":90,"labelFlush":false,"labelOverlap":false,"titlePadding":0}},
"y":{"field":"f","type":"quantitative","stack":null,"scale":{"domain":[0,5000],"nice":false},"axis":{"title":null,"format":"d","values":[0,500,1000,1500,2000,2500,3000,3500,4000,4500,5000],"labelFlush":false,"labelOverlap":false}}},
"layer":[
{"data":{"name":"curves"},"transform":[{"filter":"datum.s==='C07'"}],"mark":{"type":"area"},"encoding":{"color":{"field":"t","type":"nominal","scale":{"domain":["Roseiflexus","Chloroflexus","Chloroflexi","Cyanobacteria","Gammaproteobacteria","Bacteroidetes","Chlorobi","Thermotogae","Proteobacteria","Acidobacteria","Thermodesulfobacteria","Aquificae","Nitrospirae","All"],"range":["#ff0000","#416b18","#ffff00","#33cc66","#ff00ff","#ffb21a","#a8c81a","#87cefa","#7a0a2e","#3b1f6b","#0000ff","#d291d8","#cc0000","#000000"]},"legend":{"title":null,"orient":"none","legendX":972,"legendY":96}}}},
{"data":{"name":"peaks"},"transform":[{"filter":"datum.s==='C07'"}],"mark":{"type":"rule","strokeDash":[7,5],"strokeWidth":2},"encoding":{"y2":{"field":"f2"},"stroke":{"field":"shade","type":"nominal","scale":{"domain":["light","dark"],"range":["#ffffff","#000000"]},"legend":null}}},
{"data":{"name":"leaders"},"transform":[{"filter":"datum.s==='C07'"}],"mark":{"type":"rule","color":"#3a3a3a","strokeWidth":0.8},"encoding":{"x2":{"field":"gc2"},"y2":{"field":"f2"}}},
{"data":{"name":"notes"},"transform":[{"filter":"datum.s==='C07' && datum.st==='i'"}],"mark":{"type":"text","fontStyle":"italic","fontSize":12.5,"color":"#4d4d4d","baseline":"middle"},"encoding":{"text":{"field":"txt"}}},
{"data":{"name":"notes"},"transform":[{"filter":"datum.s==='C07' && datum.st==='n'"}],"mark":{"type":"text","fontSize":12.5,"color":"#4d4d4d","baseline":"middle"},"encoding":{"text":{"field":"txt"}}},
{"data":{"name":"notes"},"transform":[{"filter":"datum.s==='C07' && datum.st==='h'"}],"mark":{"type":"text","fontSize":17,"fontWeight":"bold","color":"#333333","baseline":"alphabetic","align":"center","lineBreak":"\n","lineHeight":20},"encoding":{"text":{"field":"txt"}}}
]},
{"width":288,"height":203,
"encoding":{"x":{"field":"gc","type":"quantitative","scale":{"domain":[20,80],"nice":false,"zero":false},"axis":{"title":"%G+C","values":[20,25,30,35,40,45,50,55,60,65,70,75,80],"labelAngle":90,"labelFlush":false,"labelOverlap":false,"titlePadding":0}},
"y":{"field":"f","type":"quantitative","stack":null,"scale":{"domain":[0,4000],"nice":false},"axis":{"title":null,"format":"d","values":[0,500,1000,1500,2000,2500,3000,3500,4000],"labelFlush":false,"labelOverlap":false,"minExtent":41}}},
"layer":[
{"data":{"name":"curves"},"transform":[{"filter":"datum.s==='F16'"}],"mark":{"type":"area"},"encoding":{"color":{"field":"t","type":"nominal","scale":{"domain":["Roseiflexus","Chloroflexus","Chloroflexi","Cyanobacteria","Gammaproteobacteria","Bacteroidetes","Chlorobi","Thermotogae","Proteobacteria","Acidobacteria","Thermodesulfobacteria","Aquificae","Nitrospirae","All"],"range":["#ff0000","#416b18","#ffff00","#33cc66","#ff00ff","#ffb21a","#a8c81a","#87cefa","#7a0a2e","#3b1f6b","#0000ff","#d291d8","#cc0000","#000000"]},"legend":{"title":null,"orient":"none","legendX":972,"legendY":96}}}},
{"data":{"name":"peaks"},"transform":[{"filter":"datum.s==='F16'"}],"mark":{"type":"rule","strokeDash":[7,5],"strokeWidth":2},"encoding":{"y2":{"field":"f2"},"stroke":{"field":"shade","type":"nominal","scale":{"domain":["light","dark"],"range":["#ffffff","#000000"]},"legend":null}}},
{"data":{"name":"leaders"},"transform":[{"filter":"datum.s==='F16'"}],"mark":{"type":"rule","color":"#3a3a3a","strokeWidth":0.8},"encoding":{"x2":{"field":"gc2"},"y2":{"field":"f2"}}},
{"data":{"name":"notes"},"transform":[{"filter":"datum.s==='F16' && datum.st==='i'"}],"mark":{"type":"text","fontStyle":"italic","fontSize":12.5,"color":"#4d4d4d","baseline":"middle"},"encoding":{"text":{"field":"txt"}}},
{"data":{"name":"notes"},"transform":[{"filter":"datum.s==='F16' && datum.st==='n'"}],"mark":{"type":"text","fontSize":12.5,"color":"#4d4d4d","baseline":"middle"},"encoding":{"text":{"field":"txt"}}},
{"data":{"name":"notes"},"transform":[{"filter":"datum.s==='F16' && datum.st==='h'"}],"mark":{"type":"text","fontSize":17,"fontWeight":"bold","color":"#333333","baseline":"alphabetic","align":"center","lineBreak":"\n","lineHeight":20},"encoding":{"text":{"field":"txt"}}}
]}
],
"columns": 3,
"align": "each",
"spacing": {"row": 20.5, "column": 4}
},
{
"width": 668, "height": 72,
"view": {"stroke": null},
"data": {"name": "caption"},
"encoding": {
"x": {"field": "col", "type": "ordinal", "scale": {"type": "point", "padding": 0}, "axis": null},
"y": {"field": "line", "type": "ordinal", "scale": {"type": "point", "padding": 0.5}, "axis": null},
"text": {"field": "txt"}
},
"layer": [
{"transform": [{"filter": "datum.part==='lead'"}], "mark": {"type": "text", "align": "left", "baseline": "middle", "dx": -77, "font": "DejaVu Sans", "fontSize": 16.3, "fontWeight": "bold", "color": "#111111"}},
{"transform": [{"filter": "datum.part==='body'"}], "mark": {"type": "text", "align": "left", "baseline": "middle", "dx": -77, "font": "DejaVu Sans", "fontSize": 16.3, "color": "#333333"}},
{"transform": [{"filter": "datum.part==='tail'"}], "mark": {"type": "text", "align": "right", "baseline": "middle", "dx": 565, "font": "DejaVu Sans", "fontSize": 16.3, "color": "#333333"}}
]
}
],
"spacing": 40,
"config": {
"font": "Liberation Sans",
"view": {"stroke": "#7a7a7a", "strokeWidth": 1},
"axis": {"labelFont": "Liberation Sans", "labelFontWeight": "bold", "labelFontSize": 12.5, "labelColor": "#222222", "titleFont": "Liberation Sans", "titleFontSize": 13, "titleFontWeight": "bold", "titleColor": "#222222", "domainColor": "#222222", "tickColor": "#222222", "tickSize": 3, "labelPadding": 1, "grid": false},
"legend": {"symbolType": "square", "symbolSize": 256, "symbolStrokeColor": "#333333", "symbolStrokeWidth": 1, "symbolOpacity": 1, "labelFont": "Liberation Sans", "labelFontSize": 20, "labelColor": "#111111", "labelLimit": 400, "rowPadding": 4.6, "labelOffset": 13, "padding": 0},
"text": {"font": "Liberation Sans"}
}
}
